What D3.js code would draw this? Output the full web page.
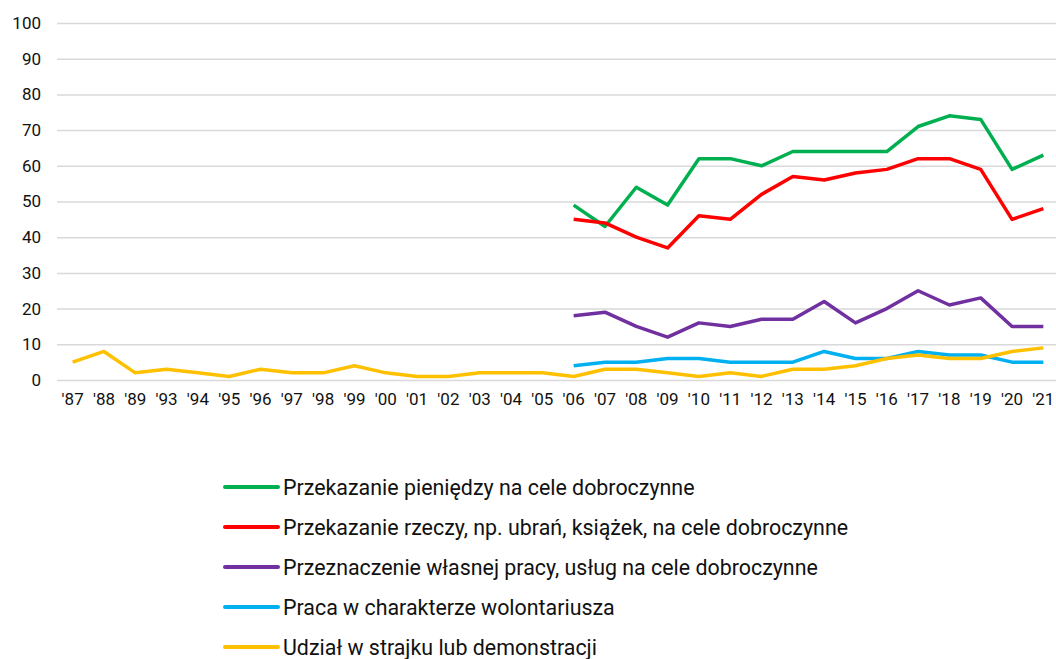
<!DOCTYPE html>
<html>
<head>
<meta charset="utf-8">
<script src="https://cdn.jsdelivr.net/npm/d3@7"></script>
<style>
  body { margin: 0; background: #fff; }
  text { font-family: Roboto, "Noto Sans", sans-serif; fill: #111; }
</style>
</head>
<body>
<div id="chart"></div>
<script>
  // Years on the x axis
  const years = ["'87","'88","'89","'93","'94","'95","'96","'97","'98","'99","'00","'01","'02","'03","'04","'05",
    "'06","'07","'08","'09","'10","'11","'12","'13","'14","'15","'16","'17","'18","'19","'20","'21"];
  const recentYears = years.slice(years.indexOf("'06"));

  const yTicks = [0, 10, 20, 30, 40, 50, 60, 70, 80, 90, 100];

  const seriesNames = [
    "Przekazanie pieniędzy na cele dobroczynne",
    "Przekazanie rzeczy, np. ubrań, książek, na cele dobroczynne",
    "Przeznaczenie własnej pracy, usług na cele dobroczynne",
    "Praca w charakterze wolontariusza",
    "Udział w strajku lub demonstracji"
  ];
  const seriesColors = ["#00B050", "#FF0000", "#7030A0", "#00B0F0", "#FFC000"];

  const money   = [49, 43, 54, 49, 62, 62, 60, 64, 64, 64, 64, 71, 74, 73, 59, 63];
  const things  = [45, 44, 40, 37, 46, 45, 52, 57, 56, 58, 59, 62, 62, 59, 45, 48];
  const work    = [18, 19, 15, 12, 16, 15, 17, 17, 22, 16, 20, 25, 21, 23, 15, 15];
  const volunteer = [4, 5, 5, 6, 6, 5, 5, 5, 8, 6, 6, 8, 7, 7, 5, 5];
  const strike  = [5, 8, 2, 3, 2, 1, 3, 2, 2, 4, 2, 1, 1, 2, 2, 2,
    1, 3, 3, 2, 1, 2, 1, 3, 3, 4, 6, 7, 6, 6, 8, 9];

  const series = [
    { name: seriesNames[0], color: seriesColors[0], x: recentYears, values: money },
    { name: seriesNames[1], color: seriesColors[1], x: recentYears, values: things },
    { name: seriesNames[2], color: seriesColors[2], x: recentYears, values: work },
    { name: seriesNames[3], color: seriesColors[3], x: recentYears, values: volunteer },
    { name: seriesNames[4], color: seriesColors[4], x: years, values: strike }
  ];

  const svgWidth = 1056;
  const svgHeight = 659;
  const margin = { top: 23, right: -3, bottom: 279, left: 57 };

  const svg = d3.select("#chart")
    .append("svg")
    .attr("width", svgWidth)
    .attr("height", svgHeight);

  const xScale = d3.scaleBand()
    .domain(years)
    .range([margin.left, svgWidth - margin.right]);

  const yScale = d3.scaleLinear()
    .domain([0, 100])
    .range([svgHeight - margin.bottom, margin.top]);

  // Gridlines + y labels
  const yAxis = svg.append("g")
    .attr("transform", `translate(${margin.left}, 0)`)
    .call(d3.axisLeft(yScale).tickValues(yTicks).tickSize(-(svgWidth - margin.left)).tickPadding(16));
  yAxis.select(".domain").remove();
  yAxis.selectAll("line").attr("stroke", "#d9d9d9").attr("stroke-width", 1.5);
  yAxis.selectAll("text").style("font-size", "17px");

  // X axis labels
  const xAxis = svg.append("g")
    .attr("transform", `translate(0, ${svgHeight - margin.bottom})`)
    .call(d3.axisBottom(xScale).tickSize(0).tickPadding(13));
  xAxis.select(".domain").remove();
  xAxis.selectAll("text").style("font-size", "17px");

  const line = d3.line()
    .x(d => xScale(d[0]) + xScale.bandwidth() / 2)
    .y(d => yScale(d[1]));

  svg.selectAll(".series")
    .data(series)
    .enter()
    .append("path")
    .attr("class", "series")
    .attr("fill", "none")
    .attr("stroke", d => d.color)
    .attr("stroke-width", 3.5)
    .attr("stroke-linejoin", "round")
    .attr("d", d => line(d.x.map((x, i) => [x, d.values[i]])));

  // Legend
  const legend = svg.append("g").attr("transform", "translate(225, 487)");
  const rows = legend.selectAll("g")
    .data(series)
    .enter()
    .append("g")
    .attr("transform", (d, i) => `translate(0, ${i * 40})`);
  rows.append("line")
    .attr("x1", 0).attr("x2", 53)
    .attr("stroke", d => d.color)
    .attr("stroke-width", 4)
    .attr("stroke-linecap", "round");
  rows.append("text")
    .attr("x", 58)
    .attr("dy", "0.35em")
    .style("font-size", "21.4px")
    .text(d => d.name);
</script>
</body>
</html>
